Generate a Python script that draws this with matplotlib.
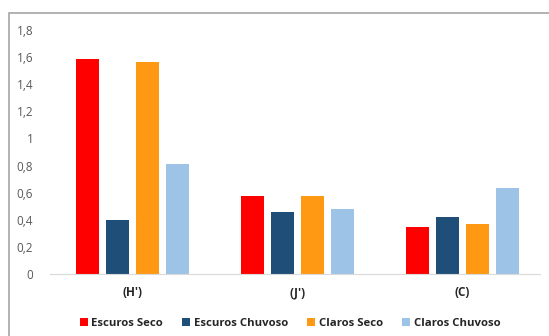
import numpy as np
import matplotlib.pyplot as plt
from matplotlib.patches import Rectangle

categories = ["(H')", "(J')", "(C)"]
series = ['Escuros Seco', 'Escuros Chuvoso', 'Claros Seco', 'Claros Chuvoso']
escuros_seco = [1.585, 0.575, 0.347]
escuros_chuvoso = [0.398, 0.457, 0.42]
claros_seco = [1.563, 0.575, 0.369]
claros_chuvoso = [0.81, 0.48, 0.634]
colors = ['#FF0000', '#1F4E79', '#FF9914', '#9DC3E6']

plt.rcParams['font.family'] = ['Open Sans', 'DejaVu Sans']

fig = plt.figure(figsize=(5.49, 3.36), dpi=100)
# outer chart border (left/top visible)
fig.patches.append(Rectangle((9 / 549, -0.05), 1.2, 1 - 13 / 336 + 0.05,
                             transform=fig.transFigure, fill=False,
                             edgecolor='#A6A6A6', lw=1.2))

ax = fig.add_axes([50 / 549, 1 - 274 / 336, 490 / 549, 244 / 336])
x = np.arange(len(categories))
w = 0.14
step = 0.182
values = [escuros_seco, escuros_chuvoso, claros_seco, claros_chuvoso]
for i, (name, vals) in enumerate(zip(series, values)):
    ax.bar(x + (i - 1.5) * step, vals, width=w, color=colors[i], label=name)

ax.set_ylim(0, 1.8)
ax.set_xlim(-0.5, 2.47)
ax.set_yticks(np.arange(0, 1.81, 0.2))
ax.set_yticklabels(['0', '0,2', '0,4', '0,6', '0,8', '1', '1,2', '1,4', '1,6', '1,8'])
ax.set_xticks(x)
ax.set_xticklabels(categories, fontweight='bold', fontsize=8.5, color='#262626')
for s in ['top', 'right', 'left']:
    ax.spines[s].set_visible(False)
ax.spines['bottom'].set_color('#D9D9D9')
ax.tick_params(axis='y', length=0, labelsize=8.5, labelcolor='#595959', pad=12)
ax.tick_params(axis='x', length=0, pad=9)

leg = fig.legend(loc='center', bbox_to_anchor=(290 / 549, 1 - 323 / 336), ncol=4,
                 frameon=False, handlelength=0.7, handleheight=0.7,
                 handletextpad=0.3, columnspacing=1.7,
                 prop={'weight': 'bold', 'size': 8.2})
for t in leg.get_texts():
    t.set_color('#262626')

fig.savefig('out.png', dpi=100)
